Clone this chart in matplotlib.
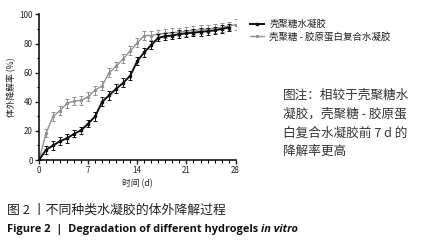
import numpy as np
import matplotlib
matplotlib.use("Agg")
import matplotlib.pyplot as plt
from matplotlib.lines import Line2D

plt.rcParams['font.family'] = ['Noto Sans CJK SC', 'DejaVu Sans']

# data (degradation %, by day)
days_cs = np.arange(0, 28)
cs = [0, 7, 10, 13, 15, 18, 20.5, 25, 30, 40, 44.5, 49, 53, 58, 68, 74, 79, 84,
      85, 85.5, 86.5, 87, 87.5, 88, 88.5, 89, 90, 91]
cs_err = [0, 2.5, 3, 3, 3, 2.5, 2.5, 2.5, 3, 3, 3, 3, 3, 3, 3, 3, 2.5, 2.5,
          2.5, 2.5, 2.5, 2.5, 2.5, 2.5, 2.5, 2.5, 2.5, 2.5]
days_csc = np.arange(0, 29)
csc = [0, 18.5, 30, 34, 39, 40.5, 41, 43.5, 48, 51, 60, 64.5, 69.5, 75, 80.5, 85.5,
       85.5, 86.5, 87, 87.5, 88, 88.5, 89, 89.5, 90, 90.5, 91, 92, 93]
csc_err = [0, 2.5, 3, 3, 3, 3, 3, 3, 3, 3, 3, 3, 3, 3, 3, 3, 3, 3,
           3, 3, 3, 3, 3, 3, 3, 3, 3, 3, 4]

labels = ["壳聚糖水凝胶", "壳聚糖 - 胶原蛋白复合水凝胶"]
xticks = [0, 7, 14, 21, 28]
yticks = [0, 20, 40, 60, 80, 100]

fig = plt.figure(figsize=(4.23, 2.44), dpi=100)
ax = fig.add_axes([0.0922, 0.344, 0.557 - 0.0922, 0.941 - 0.344])

ax.errorbar(days_csc, csc, yerr=csc_err, color="#929292", lw=1.0, marker="o", ms=1.5,
            elinewidth=0.7, capsize=1.3, capthick=0.7, zorder=2)
ax.errorbar(days_cs, cs, yerr=cs_err, color="#111111", lw=1.4, marker="s", ms=1.6,
            elinewidth=0.7, capsize=1.3, capthick=0.7, zorder=3)

ax.set_xlim(0, 28)
ax.set_ylim(0, 100)
ax.set_xticks(xticks)
ax.set_yticks(yticks)
ax.set_xticks(np.arange(0, 29), minor=True)
ax.set_yticks(np.arange(0, 101, 10), minor=True)
for s in ["top", "right"]:
    ax.spines[s].set_visible(False)
for s in ["left", "bottom"]:
    ax.spines[s].set_linewidth(1.1)
ax.tick_params(which="major", length=3, width=1, labelsize=5.8, pad=1.5, colors="#222222")
ax.tick_params(which="minor", length=1.8, width=0.8)
ax.set_xlabel("时间 (d)", fontsize=6.3, labelpad=3, color="#222222")
ax.set_ylabel("体外降解率 (%)", fontsize=6.3, labelpad=2, color="#222222")

handles = [Line2D([], [], color="#111111", lw=1.4, marker="s", ms=1.6),
           Line2D([], [], color="#929292", lw=1.0, marker="o", ms=1.5)]
leg = fig.legend(handles, labels, loc="upper left", bbox_to_anchor=(0.572, 0.955),
                 frameon=False, fontsize=6.8, handlelength=1.4, handletextpad=0.6,
                 labelspacing=0.25)
for t in leg.get_texts():
    t.set_color("#222222")

note = "图注：相较于壳聚糖水\n凝胶，壳聚糖 - 胶原蛋\n白复合水凝胶前 7 d 的\n降解率更高"
fig.text(0.668, 0.635, note, fontsize=9.1, color="#333333", va="top", ha="left",
         linespacing=1.56)

fig.text(0.016, 0.139, "图 2 丨不同种类水凝胶的体外降解过程", fontsize=9.3,
         color="#222222", va="center", ha="left")
t1 = fig.text(0.016, 0.061, "Figure 2  |  Degradation of different hydrogels ",
              fontsize=7.9, fontweight="bold", color="#111111", va="center", ha="left",
              family=["Open Sans", "DejaVu Sans"])
fig.canvas.draw()
bb = t1.get_window_extent().transformed(fig.transFigure.inverted())
fig.text(bb.x1, 0.061, "in vitro", fontsize=7.9, fontweight="bold", style="italic",
         color="#111111", va="center", ha="left", family=["Open Sans", "DejaVu Sans"])

fig.savefig("out.png", dpi=100)
